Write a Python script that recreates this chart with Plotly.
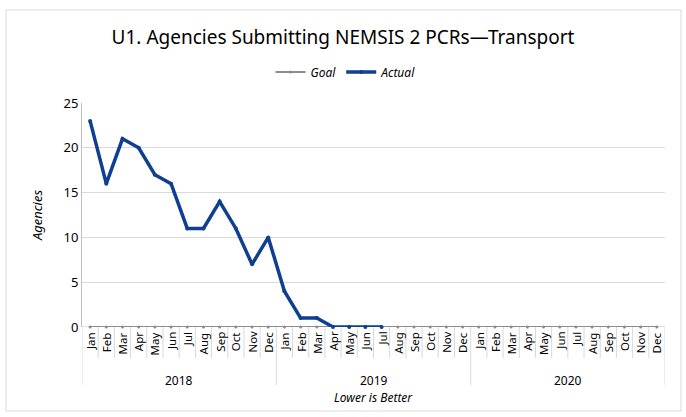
import plotly.graph_objects as go

months = ["Jan","Feb","Mar","Apr","May","Jun","Jul","Aug","Sep","Oct","Nov","Dec"]
years = ["2018", "2019", "2020"]
goal = [0]*36
actual = [23,16,21,20,17,16,11,11,14,11,7,10, 4,1,1,0,0,0,0]
yticks = [0,5,10,15,20,25]

FONT = "Noto Sans"
x_all = list(range(36))
blue = "#0F3F91"
gray = "#8C8C8C"

fig = go.Figure()
fig.add_trace(go.Scatter(x=x_all, y=goal, name="<i>Goal</i>", mode="lines+markers",
                         line=dict(color=gray, width=2), marker=dict(size=3, color=gray),
                         cliponaxis=False))
fig.add_trace(go.Scatter(x=x_all[:len(actual)], y=actual, name="<i>Actual</i>", mode="lines+markers",
                         line=dict(color=blue, width=3.5), marker=dict(size=4, color=blue),
                         cliponaxis=False))

L, R, T, B = 82, 21, 103, 90
W, H = 686, 417
pw = W - L - R
ph = H - T - B
def px2x(px): return (px - L) / pw
def px2y(py): return (H - B - py) / ph

shapes = []
annotations = []
shapes.append(dict(type="rect", xref="paper", yref="paper", x0=px2x(6), x1=px2x(681),
                   y0=px2y(411), y1=px2y(10), line=dict(color="#D9D9D9", width=1), layer="below"))
for i in range(37):
    long = (i % 12 == 0)
    shapes.append(dict(type="line", xref="x", yref="paper", x0=i-0.5, x1=i-0.5,
                       y0=0, y1=px2y(385 if long else 358), line=dict(color="#D9D9D9", width=1)))
shapes.append(dict(type="line", xref="paper", yref="y", x0=0, x1=1, y0=0, y1=0,
                   line=dict(color="#BFBFBF", width=1), layer="below"))
for i in range(36):
    annotations.append(dict(x=i, xref="x", yref="paper", y=px2y(330), text=months[i % 12],
                            textangle=-90, showarrow=False, xanchor="center", yanchor="top",
                            font=dict(family=FONT, size=11.5, color="#000")))
for j, yr in enumerate(years):
    annotations.append(dict(x=j*12+5.5, xref="x", yref="paper", y=px2y(380), text=yr,
                            showarrow=False, xanchor="center", yanchor="middle",
                            font=dict(family=FONT, size=12, color="#000")))
annotations.append(dict(x=17.5, xref="x", yref="paper", y=px2y(397), text="<i>Lower is Better</i>",
                        showarrow=False, xanchor="center", yanchor="middle",
                        font=dict(family=FONT, size=12, color="#000")))

fig.update_layout(
    width=W, height=H,
    margin=dict(l=L, r=R, t=T, b=B),
    paper_bgcolor="white", plot_bgcolor="white",
    title=dict(text="U1. Agencies Submitting NEMSIS 2 PCRs—Transport", x=0.5, xanchor="center",
               y=1-37/H, yanchor="middle", font=dict(family=FONT, size=19, color="#000")),
    showlegend=True,
    legend=dict(orientation="h", x=px2x(346), xanchor="center", y=px2y(72), yanchor="middle",
                font=dict(family=FONT, size=12, color="#000"), bgcolor="rgba(0,0,0,0)",
                itemwidth=30),
    xaxis=dict(range=[-0.5, 35.5], showticklabels=False, showgrid=False, zeroline=False,
               showline=False, ticks=""),
    yaxis=dict(range=[0, 25], tickvals=yticks, showgrid=True, gridcolor="#D9D9D9", gridwidth=1,
               zeroline=False, showline=True, linecolor="#BFBFBF", linewidth=1, ticks="",
               ticklen=0, tickfont=dict(family=FONT, size=13, color="#000"),
               title=dict(text="<i>Agencies</i>", font=dict(family=FONT, size=13, color="#000"),
                          standoff=17)),
    shapes=shapes, annotations=annotations,
)
fig.write_html("out.html", config={"displayModeBar": False},
               post_script="document.body.style.margin='0';")
